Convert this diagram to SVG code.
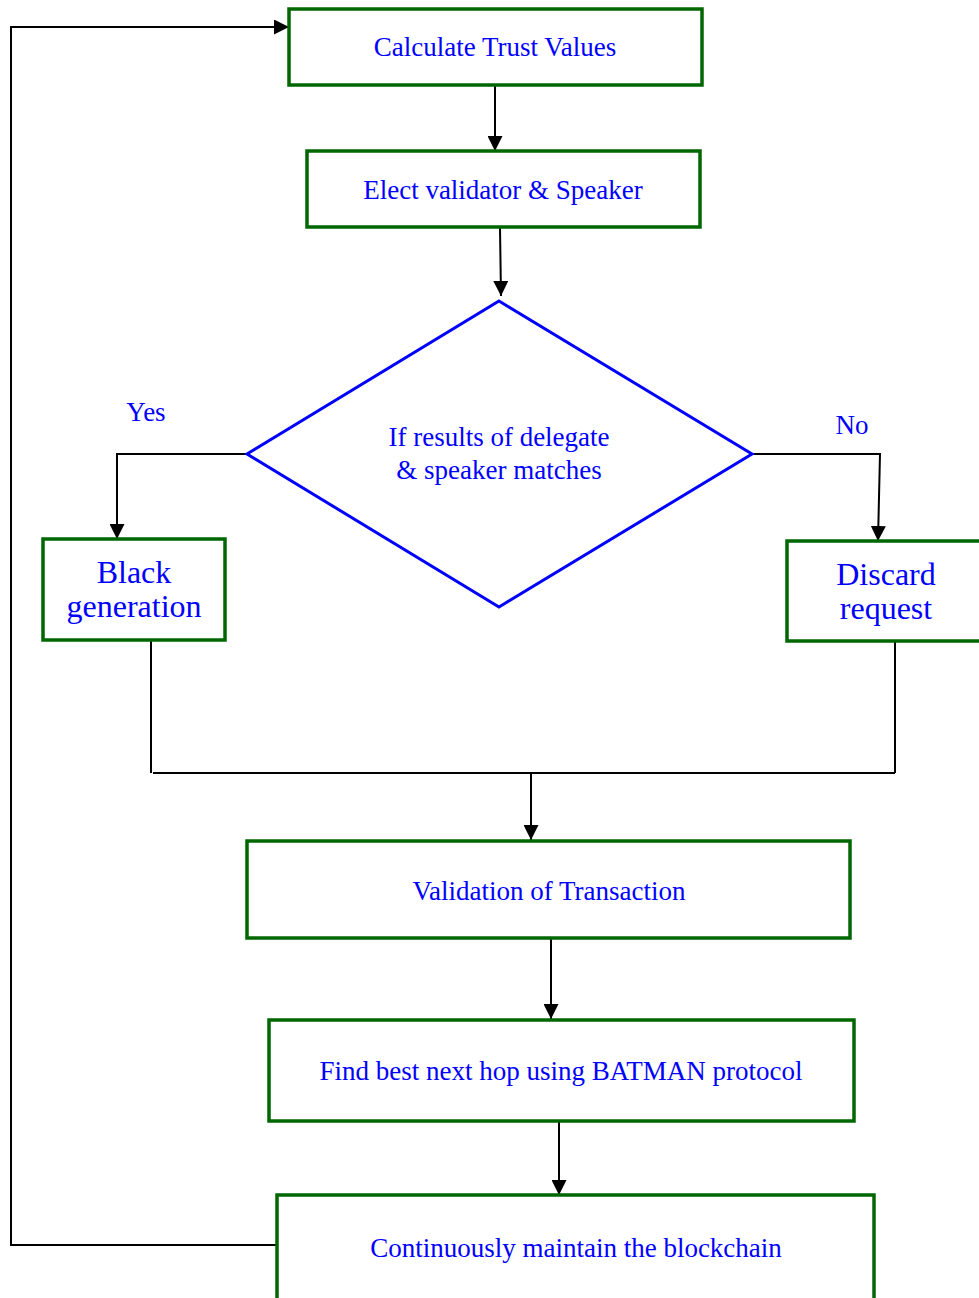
<svg xmlns="http://www.w3.org/2000/svg" width="979" height="1298" viewBox="0 0 979 1298">
<style>
.box{fill:#fff;stroke:#006600;stroke-width:3.5}
.dia{fill:#fff;stroke:#0000ff;stroke-width:3}
.t{font-family:"Liberation Serif","Times New Roman",serif;fill:#0000ff;text-anchor:middle}
.s{font-size:27px}
.l{font-size:32px}
.c{fill:none;stroke:#000;stroke-width:2}
</style>
<defs>
<marker id="a" viewBox="0 0 14 14" refX="14" refY="7" markerWidth="15" markerHeight="15" markerUnits="userSpaceOnUse" orient="auto">
<path d="M0,0 L14,7 L0,14 z" fill="#000"/>
</marker>
</defs>
<g id="connectors">
<path class="c" d="M495,86 L495,151" marker-end="url(#a)"/>
<path class="c" d="M500,228 L501,296" marker-end="url(#a)"/>
<path class="c" d="M247,454 L117,454 L117,539" marker-end="url(#a)"/>
<path class="c" d="M752,454 L880,454 L878,541" marker-end="url(#a)"/>
<path class="c" d="M151,641 L151,773"/>
<path class="c" d="M895,642 L895,773"/>
<path class="c" d="M153,773 L895,773"/>
<path class="c" d="M531,773 L531,840" marker-end="url(#a)"/>
<path class="c" d="M551,939 L551,1019" marker-end="url(#a)"/>
<path class="c" d="M559,1122 L559,1195" marker-end="url(#a)"/>
<path class="c" d="M277,1245 L11,1245 L11,27 L289,27" marker-end="url(#a)"/>
<text class="t s" x="146" y="421">Yes</text>
<text class="t s" x="852" y="434">No</text>
</g>
<g id="n1">
<rect class="box" x="289" y="9" width="413" height="76"/>
<text class="t s" x="495" y="56">Calculate Trust Values</text>
</g>
<g id="n2">
<rect class="box" x="307" y="151" width="393" height="76"/>
<text class="t s" x="503" y="199">Elect validator &amp; Speaker</text>
</g>
<g id="n3">
<polygon class="dia" points="499,301 752,454 499,607 247,454"/>
<text class="t s" x="499" y="446">If results of delegate</text>
<text class="t s" x="499" y="479">&amp; speaker matches</text>
</g>
<g id="n4">
<rect class="box" x="43" y="539" width="182" height="101"/>
<text class="t l" x="134" y="583">Black</text>
<text class="t l" x="134" y="617">generation</text>
</g>
<g id="n5">
<rect class="box" x="787" y="541" width="195" height="100"/>
<text class="t l" x="886" y="585">Discard</text>
<text class="t l" x="886" y="619">request</text>
</g>
<g id="n6">
<rect class="box" x="247" y="841" width="603" height="97"/>
<text class="t s" x="549" y="900">Validation of Transaction</text>
</g>
<g id="n7">
<rect class="box" x="269" y="1020" width="585" height="101"/>
<text class="t s" x="561" y="1080">Find best next hop using BATMAN protocol</text>
</g>
<g id="n8">
<rect class="box" x="277" y="1195" width="597" height="110"/>
<text class="t s" x="576" y="1257">Continuously maintain the blockchain</text>
</g>
</svg>
